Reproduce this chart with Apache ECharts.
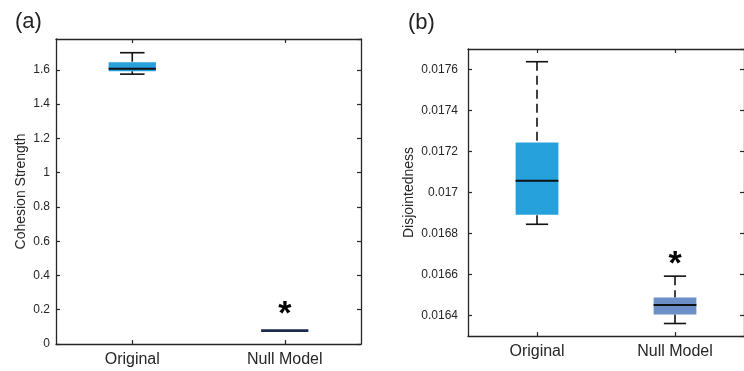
<!DOCTYPE html>
<html>
<head>
<meta charset="utf-8">
<script src="https://cdn.jsdelivr.net/npm/echarts@6/dist/echarts.min.js"></script>
<style>
  html, body { margin: 0; padding: 0; background: #fff; }
  #main { width: 744px; height: 371px; }
</style>
</head>
<body>
<div id="main"></div>
<script>
var categories = ['Original', 'Null Model'];

// each box: [lower whisker, Q1, median, Q3, upper whisker]
var cohesionOriginal = [1.575, 1.592, 1.606, 1.645, 1.700];
var cohesionNull = [0.078, 0.078, 0.078, 0.078, 0.078];
var disjointOriginal = [0.016845, 0.016892, 0.017057, 0.017244, 0.017638];
var disjointNull = [0.016361, 0.016405, 0.016451, 0.016488, 0.016592];

// significance marks per category
var sigMarks = ['', '*'];

var FONT = '"Liberation Sans", Arial, Helvetica, sans-serif';
var frameColor = '#262626';
var textColor = '#262626';
var boxColorsA = ['#27a1dc', '#1c2b4c'];
var boxColorsB = ['#27a1dc', '#6b8fc6'];

var chart = echarts.init(document.getElementById('main'));

function makeRender(colors, starGap) {
  return function (params, api) {
    var i = api.value(0);
    var x = api.coord([i, 0])[0];
    var yLo = api.coord([i, api.value(1)])[1];
    var yQ1 = api.coord([i, api.value(2)])[1];
    var yMed = api.coord([i, api.value(3)])[1];
    var yQ3 = api.coord([i, api.value(4)])[1];
    var yHi = api.coord([i, api.value(5)])[1];
    var w = api.size([1, 0])[0] * 0.31;
    var cap = w * 0.52;
    var flat = yQ1 - yQ3 < 1;
    var dash = { stroke: '#111', lineWidth: 1.6, lineDash: [9, 5] };
    var solid = { stroke: '#111', lineWidth: 1.6 };

    var children = [];
    if (!flat) {
      children.push(
        { type: 'line', shape: { x1: x, y1: yHi, x2: x, y2: yQ3 }, style: dash },
        { type: 'line', shape: { x1: x, y1: yLo, x2: x, y2: yQ1 }, style: dash },
        { type: 'line', shape: { x1: x - cap / 2, y1: yHi, x2: x + cap / 2, y2: yHi }, style: solid },
        { type: 'line', shape: { x1: x - cap / 2, y1: yLo, x2: x + cap / 2, y2: yLo }, style: solid },
        {
          type: 'rect',
          shape: { x: x - w / 2, y: yQ3, width: w, height: yQ1 - yQ3 },
          style: { fill: colors[i] }
        }
      );
    }
    children.push({
      type: 'line',
      shape: { x1: x - w / 2, y1: yMed, x2: x + w / 2, y2: yMed },
      style: { stroke: flat ? colors[i] : '#111', lineWidth: flat ? 2.6 : 2 }
    });
    if (sigMarks[i]) {
      children.push({
        type: 'text',
        x: x,
        y: yHi - starGap,
        style: {
          text: sigMarks[i],
          font: 'bold 34px ' + FONT,
          fill: '#000',
          align: 'center',
          verticalAlign: 'middle'
        }
      });
    }
    return { type: 'group', children: children };
  };
}

function xAxes(gridIndex) {
  var line = { show: true, onZero: false, lineStyle: { color: frameColor, width: 1.3 } };
  var tick = { show: true, inside: true, alignWithLabel: true, length: 4, lineStyle: { color: frameColor, width: 1.2 } };
  return [{
    type: 'category', gridIndex: gridIndex, data: categories, position: 'bottom',
    axisLine: line, axisTick: tick, splitLine: { show: false },
    axisLabel: { fontSize: 16, color: textColor, fontFamily: FONT, margin: 8 }
  }, {
    type: 'category', gridIndex: gridIndex, data: categories, position: 'top',
    axisLine: line, axisTick: tick, splitLine: { show: false },
    axisLabel: { show: false }
  }];
}

function yAxes(gridIndex, base) {
  var line = { show: true, onZero: false, lineStyle: { color: frameColor, width: 1.3 } };
  var tick = { show: true, inside: true, length: 4, lineStyle: { color: frameColor, width: 1.2 } };
  var left = Object.assign({
    type: 'value', gridIndex: gridIndex, position: 'left',
    axisLine: line, axisTick: tick, splitLine: { show: false },
    nameLocation: 'middle',
    nameTextStyle: { fontSize: 14, color: textColor, fontFamily: FONT }
  }, base.left);
  var right = Object.assign({
    type: 'value', gridIndex: gridIndex, position: 'right',
    axisLine: line, axisTick: tick, splitLine: { show: false },
    axisLabel: { show: false }
  }, base.right);
  return [left, right];
}

var yA = yAxes(0, {
  left: {
    min: 0, max: 1.78, interval: 0.2,
    name: 'Cohesion Strength', nameGap: 28,
    axisLabel: {
      fontSize: 12, color: textColor, fontFamily: FONT, margin: 6, showMaxLabel: false,
      formatter: function (v) { return String(parseFloat(v.toFixed(1))); }
    }
  },
  right: { min: 0, max: 1.78, interval: 0.2 }
});

var yB = yAxes(1, {
  left: {
    min: 0.0163, max: 0.0177, splitNumber: 7,
    name: 'Disjointedness', nameGap: 52,
    axisLabel: {
      fontSize: 12, color: textColor, fontFamily: FONT, margin: 10,
      showMinLabel: false, showMaxLabel: false,
      formatter: function (v) { return String(parseFloat(v.toFixed(4))); }
    }
  },
  right: { min: 0.0163, max: 0.0177, splitNumber: 7 }
});

var option = {
  animation: false,
  backgroundColor: '#fff',
  title: [
    { text: '(a)', left: 10, top: 6, textStyle: { fontSize: 22, fontWeight: 'normal', color: '#222', fontFamily: FONT } },
    { text: '(b)', left: 403, top: 7, textStyle: { fontSize: 22, fontWeight: 'normal', color: '#222', fontFamily: FONT } }
  ],
  grid: [
    { left: 56, top: 39, width: 305, height: 305 },
    { left: 468, top: 49, width: 287, height: 287 }
  ],
  xAxis: xAxes(0).concat(xAxes(1)),
  yAxis: yA.concat(yB),
  series: [{
    type: 'custom',
    xAxisIndex: 0, yAxisIndex: 0,
    renderItem: makeRender(boxColorsA, 16),
    encode: { x: 0, y: [1, 2, 3, 4, 5] },
    data: [[0].concat(cohesionOriginal), [1].concat(cohesionNull)]
  }, {
    type: 'custom',
    xAxisIndex: 2, yAxisIndex: 2,
    renderItem: makeRender(boxColorsB, 12),
    encode: { x: 0, y: [1, 2, 3, 4, 5] },
    data: [[0].concat(disjointOriginal), [1].concat(disjointNull)]
  }]
};

chart.setOption(option);
</script>
</body>
</html>
